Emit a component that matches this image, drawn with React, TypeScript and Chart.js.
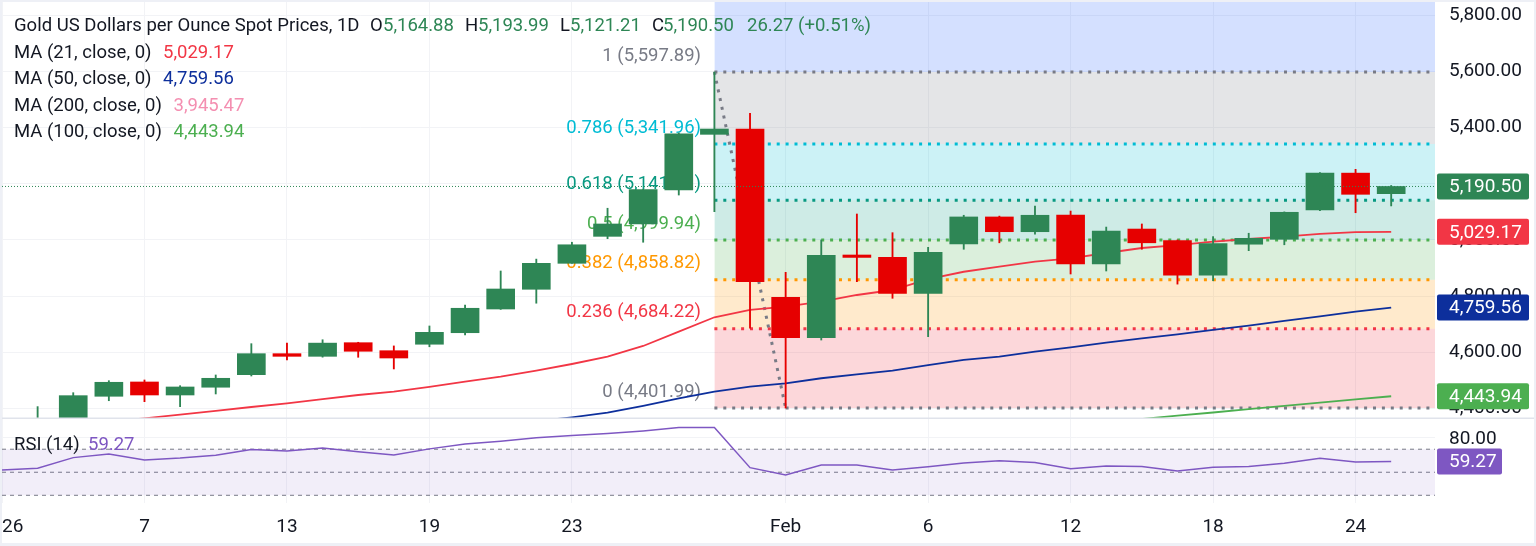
import React, { useEffect, useRef } from "react";
import { Chart, registerables } from "chart.js";

Chart.register(...registerables);

const FONT = "Roboto";
const GREEN = "#2e8655";
const RED = "#e60000";

// candle index 1..39 (index 0 is off-range)
const days = [1,2,3,4,5,6,7,8,9,10,11,12,13,14,15,16,17,18,19,20,21,22,23,24,25,26,27,28,29,30,31,32,33,34,35,36,37,38,39];
const opens = [4330,4340,4443.8,4494.7,4448.4,4476,4520.6,4595.4,4586,4634.5,4606,4629,4670,4754.4,4824.6,4917,5013,5057,5178,5376,5395,4796,4652,4946.6,4938,4810,4986,5082,5029.5,5089,4914.6,5039,4997.5,4875,4985,5002.5,5106.8,5238,5164.88];
const highs = [4407,4456.6,4499.3,4501.8,4481.5,4519.6,4631,4633,4645,4636,4623,4694,4768,4889.7,4932,4992,5113,5181,5381,5597.89,5451,4885,5000,5092.5,5026,4974,5088,5085,5121,5103,5046,5057,5000,5012,5024,5100,5240,5251.6,5193.99];
const lows = [4300,4320,4428,4424.6,4406.8,4452,4516,4573,4583,4582.6,4541,4620,4662,4753,4775,4917,5004.6,4992,5160,5100.7,4686,4401.99,4644,4851.6,4792.5,4656,4967,4990,5021,4879,4889.7,4967,4843,4855,4962,4983,5104,5097,5121.21];
const closes = [4350,4446,4493.6,4448.4,4476.9,4507.8,4595.4,4586,4633,4604,4580,4671.5,4757,4825.6,4917,4983,5057,5179,5378,5395,4851.6,4652,4945.5,4938,4810,4956,5082,5029.5,5088,4914.6,5032,4990,4875,4987,5006,5098.6,5238,5162.6,5190.5];

const ma21Days = [3,4,5,6,7,8,9,10,11,12,13,14,15,16,17,18,19,20,21,22,23,24,25,26,27,28,29,30,31,32,33,34,35,36,37,38,39];
const ma21 = [4352,4365.5,4378.6,4391.5,4405.7,4418.9,4434,4448.4,4460,4476.9,4495.7,4513.5,4534.9,4558.7,4584.7,4622.8,4673.7,4725,4751,4762.6,4780.4,4804.3,4822,4861,4887,4905,4922.8,4934.9,4953.7,4971.5,4982,4994,5003.6,5011.7,5022,5028,5029.17];
const ma50Days = [15,16,17,18,19,20,21,22,23,24,25,26,27,28,29,30,31,32,33,34,35,36,37,38,39];
const ma50 = [4355,4369,4385.4,4410,4436.7,4460,4478,4490,4508,4522,4535,4555,4573,4585,4602.5,4618,4634.5,4650,4664,4680,4695,4712,4728.5,4745,4759.56];
const ma100Days = [32,33,34,35,36,37,38,39];
const ma100 = [4363,4375,4386,4398,4410,4421,4433,4443.94];

const rsiDays = [0,1,2,3,4,5,6,7,8,9,10,11,12,13,14,15,16,17,18,19,20,21,22,23,24,25,26,27,28,29,30,31,32,33,34,35,36,37,38,39];
const rsi = [52,53.5,62.7,65.9,60.7,62.4,64.8,69.7,68.5,71.1,67.9,65,70.3,74.6,77,80,81.8,83.6,85.9,88.8,88.8,54,47.7,56.3,56.3,52,54.7,58,60,58.5,53,55.5,54.9,51,54.3,54.9,57.8,62.2,59,59.27];

const fibRatios = ["1","0.786","0.618","0.5","0.382","0.236","0"];
const fibPrices = [5597.89,5341.96,5141.61,4999.94,4858.82,4684.22,4401.99];
const fibLabels = ["5,597.89","5,341.96","5,141.61","4,999.94","4,858.82","4,684.22","4,401.99"];
const fibColors = ["#787b86","#00bcd4","#089981","#4caf50","#ff9800","#f23645","#787b86"];
const fibFills = ["rgba(120,123,134,.2)","rgba(0,188,212,.2)","rgba(8,153,129,.2)","rgba(76,175,80,.2)","rgba(255,152,0,.2)","rgba(242,54,69,.2)"];
const swingDays = [20,22];
const swingPrices = [5597.89,4401.99];

const xTickDays = [0,4,8,12,16,22,26,30,34,38];
const xTickLabels = ["2026","7","13","19","23","Feb","6","12","18","24"];
const priceTicks = [4400,4600,4800,5000,5200,5400,5600,5800];
const rsiTicks = [80];
const rsiLevels = [70,50,30];

const tagTexts = ["5,190.50","5,029.17","4,759.56","4,443.94"];
const tagPrices = [5190.5,5029.17,4759.56,4443.94];
const tagColors = ["#2e8655","#f23645","#0d2f9c","#4caf50"];
const lastPrice = 5190.5;
const rsiLast = 59.27;

const maNames = ["MA (21, close, 0)","MA (50, close, 0)","MA (200, close, 0)","MA (100, close, 0)"];
const maValues = ["5,029.17","4,759.56","3,945.47","4,443.94"];
const maColors = ["#f23645","#0d2f9c","#f48fb1","#4caf50"];

const X_MIN = 0, X_MAX = 40.23;
const P_MIN = 4366.5, P_MAX = 5847;
const R_MIN = 23.3, R_MAX = 97.1;

const hline = (v: number, from = X_MIN) => [{ x: from, y: v }, { x: X_MAX, y: v }];
const zip = (xs: number[], ys: number[]) => xs.map((x, i) => ({ x, y: ys[i] }));

const noPad = (s: any) => { s.paddingLeft = 0; s.paddingRight = 0; s.paddingTop = 0; s.paddingBottom = 0; };

const overlay = {
  id: "overlay",
  beforeDraw(c: any) {
    const x = c.ctx;
    x.save();
    x.fillStyle = "#eef0f6";
    x.fillRect(0, 0, c.width, c.height);
    x.fillStyle = "#fff";
    x.fillRect(2, 2, 1532, 541);
    x.restore();
  },
  beforeDatasetsDraw(c: any) {
    const x = c.ctx, y = c.scales.y;
    x.save();
    x.font = `18.5px ${FONT}`;
    x.textAlign = "right";
    x.textBaseline = "middle";
    fibRatios.forEach((r, i) => {
      x.fillStyle = fibColors[i];
      x.fillText(`${r} (${fibLabels[i]})`, 701, y.getPixelForValue(fibPrices[i]) - 16);
    });
    x.restore();
  },
  afterDraw(c: any) {
    const x = c.ctx, y = c.scales.y, r = c.scales.rsi;
    x.save();
    x.fillStyle = "#eef0f6";
    x.fillRect(0, 0, 2, c.height);
    x.fillStyle = "#e0e3eb";
    x.fillRect(2, 417.5, 1532, 1.5);
    x.textBaseline = "middle";
    x.font = `18.5px ${FONT}`;
    const put = (t: string, px: number, py: number, col: string) => { x.fillStyle = col; x.fillText(t, px, py); };
    // header
    const dark = "#131722";
    put("Gold US Dollars per Ounce Spot Prices, 1D", 14, 26, dark);
    const hdr: [string, number, string][] = [["O",370,dark],["5,164.88",383,GREEN],["H",465,dark],["5,193.99",478,GREEN],["L",560,dark],["5,121.21",570,GREEN],["C",652,dark],["5,190.50",663,GREEN],["26.27 (+0.51%)",747,GREEN]];
    hdr.forEach(h => put(h[0], h[1], 26, h[2]));
    const ys = [53,79,106,132], vx = [163,163,173.5,173.5];
    maNames.forEach((n, i) => { put(n, 14, ys[i], dark); put(maValues[i], vx[i], ys[i], maColors[i]); });
    put("RSI (14)", 14, 445, dark);
    put("59.27", 88, 445, "#7e57c2");
    // price tags
    const tag = (t: string, cy: number, col: string, w: number) => {
      x.fillStyle = col;
      x.beginPath();
      x.roundRect(1437, cy - 13, w, 26, 2);
      x.fill();
      x.fillStyle = "#fff";
      x.fillText(t, 1449, cy + 1);
    };
    x.font = `19px ${FONT}`;
    tagTexts.forEach((t, i) => tag(t, y.getPixelForValue(tagPrices[i]), tagColors[i], 92));
    tag(rsiLast.toFixed(2), r.getPixelForValue(rsiLast), "#7e57c2", 65);
    x.restore();
  },
};

export default function App() {
  const ref = useRef<HTMLCanvasElement>(null);
  useEffect(() => {
    const lineBase = { type: "line", pointRadius: 0, tension: 0, fill: false, parsing: true, xAxisID: "x" };
    const datasets: any[] = [
      { ...lineBase, label: "top", yAxisID: "y", data: hline(P_MAX, 20), borderWidth: 0, fill: { value: fibPrices[0] }, backgroundColor: "rgba(41,98,255,.2)", order: 20 },
      ...fibPrices.map((p, i) => ({
        ...lineBase, label: "fib " + fibRatios[i], yAxisID: "y", data: hline(p, 20),
        borderColor: fibColors[i], borderWidth: 3, borderDash: [3, 5.9],
        fill: i < 6 ? { value: fibPrices[i + 1] } : false,
        backgroundColor: fibFills[i] || "transparent", order: 19 - i,
      })),
      { ...lineBase, label: "swing", yAxisID: "y", data: zip(swingDays, swingPrices), borderColor: "#787b86", borderWidth: 3, borderDash: [3, 5.9], order: 9 },
      { ...lineBase, label: "MA21", yAxisID: "y", data: zip(ma21Days, ma21), borderColor: "#f23645", borderWidth: 1.8, order: 8 },
      { ...lineBase, label: "MA50", yAxisID: "y", data: zip(ma50Days, ma50), borderColor: "#0d2f9c", borderWidth: 1.8, order: 7 },
      { ...lineBase, label: "MA100", yAxisID: "y", data: zip(ma100Days, ma100), borderColor: "#4caf50", borderWidth: 1.8, order: 6 },
      { type: "bar", label: "wicks", xAxisID: "x", yAxisID: "y", grouped: false, barThickness: 1.2,
        data: days.map((d, i) => ({ x: d, y: [lows[i], highs[i]] })),
        backgroundColor: days.map((_, i) => (closes[i] >= opens[i] ? GREEN : RED)), order: 3 },
      { type: "bar", label: "bodies", xAxisID: "x", yAxisID: "y", grouped: false, barThickness: 28,
        data: days.map((d, i) => ({ x: d, y: [opens[i], closes[i]] })),
        backgroundColor: days.map((_, i) => (closes[i] >= opens[i] ? GREEN : RED)), order: 2 },
      { ...lineBase, label: "last", yAxisID: "y", data: hline(lastPrice), borderColor: GREEN, borderWidth: 1, borderDash: [1, 2], order: 1 },
      ...rsiLevels.map((l, i) => ({
        ...lineBase, label: "level " + l, yAxisID: "rsi", data: hline(l), borderColor: "#787b86", borderWidth: 1, borderDash: [4, 4],
        fill: i === 0 ? { value: rsiLevels[2] } : false, backgroundColor: "rgba(126,87,194,.1)", order: 5,
      })),
      { ...lineBase, label: "RSI", yAxisID: "rsi", data: zip(rsiDays, rsi), borderColor: "#7e57c2", borderWidth: 1.5, order: 4 },
    ];
    const tickFont = { family: FONT, size: 19 };
    const chart = new Chart(ref.current as HTMLCanvasElement, {
      data: { datasets },
      plugins: [overlay],
      options: {
        responsive: false,
        animation: false,
        events: [],
        layout: { padding: { left: 2, top: 2, right: 0, bottom: 0 } },
        plugins: { legend: { display: false }, tooltip: { enabled: false } },
        scales: {
          x: {
            type: "linear", position: "bottom", min: X_MIN, max: X_MAX, offset: false,
            grid: { color: "#f2f3f6", drawTicks: false, offset: false },
            border: { display: false },
            afterBuildTicks: (s: any) => { s.ticks = xTickDays.map(value => ({ value })); },
            afterFit: (s: any) => { s.height = 43; noPad(s); },
            ticks: { autoSkip: false, maxRotation: 0, padding: 13, color: "#131722", font: tickFont,
              callback: (v: any) => xTickLabels[xTickDays.indexOf(v)] ?? "" },
          },
          y: {
            type: "linear", position: "right", stack: "panes", stackWeight: 416, min: P_MIN, max: P_MAX,
            grid: { color: "#f2f3f6", drawTicks: false },
            border: { display: false },
            afterBuildTicks: (s: any) => { s.ticks = priceTicks.map(value => ({ value })); },
            afterFit: (s: any) => { s.width = 101; noPad(s); },
            ticks: { padding: 14, labelOffset: 0, color: "#131722", font: tickFont, autoSkip: false,
              callback: (v: any) => Number(v).toLocaleString("en-US", { minimumFractionDigits: 2, maximumFractionDigits: 2 }) },
          },
          rsi: {
            type: "linear", position: "right", stack: "panes", stackWeight: 85, min: R_MIN, max: R_MAX,
            grid: { color: "#f2f3f6", drawTicks: false },
            border: { display: false },
            afterBuildTicks: (s: any) => { s.ticks = rsiTicks.map(value => ({ value })); },
            afterFit: (s: any) => { s.width = 101; noPad(s); },
            ticks: { padding: 14, labelOffset: 2, color: "#131722", font: tickFont,
              callback: (v: any) => Number(v).toFixed(2) },
          },
        },
      } as any,
    } as any);
    return () => chart.destroy();
  }, []);
  return (
    <div style={{ position: "fixed", left: 0, top: 0, width: 1536, height: 546 }}>
      <canvas ref={ref} width={1536} height={546} style={{ display: "block" }} />
    </div>
  );
}
